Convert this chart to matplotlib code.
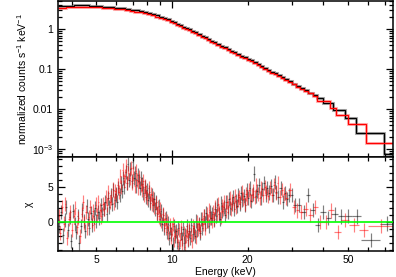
import numpy as np
import matplotlib
matplotlib.use('Agg')
import matplotlib.pyplot as plt
from matplotlib.ticker import FixedLocator, FuncFormatter

plt.rcParams['font.family'] = ['Liberation Sans', 'DejaVu Sans']
plt.rcParams['mathtext.default'] = 'regular'
plt.rcParams['font.size'] = 7.5

# ----- folded model (counts s^-1 keV^-1), step bins -----
model_edges_1 = [3.54, 3.8, 4.1, 4.4, 4.7, 5.0, 5.3, 5.6, 5.9, 6.2,
                 6.5, 6.8, 7.1, 7.4, 7.7, 8.0, 8.3, 8.6, 8.9, 9.2,
                 9.5, 9.8, 10.1, 10.4, 10.7, 11.0, 11.3, 11.6, 11.9, 12.2,
                 12.6, 13.0, 13.4, 13.8, 14.2, 14.6, 15.0, 15.5, 16.0, 16.5,
                 17.0, 17.5, 18.0, 18.6, 19.2, 19.8, 20.4, 21.0, 21.7, 22.4,
                 23.1, 23.8, 24.6, 25.4, 26.2, 27.1, 28.0, 29.0, 30.0, 31.0,
                 32.2, 33.4, 34.8, 36.2, 37.8, 39.8, 43.6, 48.5, 54.0, 69.4,
                 76.0]
model_1 = [3.8, 3.95, 4.0, 4.0, 3.92, 3.82, 3.7, 3.6, 3.48, 3.37,
           3.25, 3.12, 2.99, 2.88, 2.77, 2.58, 2.42, 2.25, 2.08, 1.93,
           1.79, 1.66, 1.52, 1.39, 1.28, 1.17, 1.08, 1.0, 0.92, 0.84,
           0.765, 0.69, 0.63, 0.57, 0.52, 0.475, 0.43, 0.39, 0.353, 0.32,
           0.295, 0.27, 0.246, 0.222, 0.2, 0.186, 0.168, 0.151, 0.136, 0.122,
           0.110, 0.099, 0.088, 0.079, 0.071, 0.063, 0.056, 0.050, 0.044, 0.039,
           0.034, 0.030, 0.026, 0.0225, 0.019, 0.0145, 0.0096, 0.006, 0.0026, 0.00076]

model_edges_2 = [3.54, 3.8, 4.1, 4.4, 4.7, 5.0, 5.3, 5.6, 5.9, 6.2,
                 6.5, 6.8, 7.1, 7.4, 7.7, 8.0, 8.3, 8.6, 8.9, 9.2,
                 9.5, 9.8, 10.1, 10.4, 10.7, 11.0, 11.3, 11.6, 11.9, 12.2,
                 12.6, 13.0, 13.4, 13.8, 14.2, 14.6, 15.0, 15.5, 16.0, 16.5,
                 17.0, 17.5, 18.0, 18.6, 19.2, 19.8, 20.4, 21.0, 21.7, 22.4,
                 23.1, 23.8, 24.6, 25.4, 26.2, 27.1, 28.0, 29.0, 30.0, 31.0,
                 32.2, 33.4, 34.8, 36.2, 37.8, 42.3, 45.0, 50.0, 59.2, 76.0]
model_2 = [3.45, 3.62, 3.7, 3.7, 3.64, 3.55, 3.45, 3.36, 3.25, 3.15,
           3.04, 2.92, 2.8, 2.69, 2.59, 2.42, 2.26, 2.1, 1.95, 1.81,
           1.68, 1.56, 1.43, 1.31, 1.2, 1.1, 1.01, 0.94, 0.865, 0.79,
           0.72, 0.65, 0.593, 0.537, 0.49, 0.447, 0.405, 0.367, 0.333, 0.302,
           0.278, 0.254, 0.232, 0.209, 0.189, 0.175, 0.158, 0.142, 0.128, 0.115,
           0.104, 0.093, 0.083, 0.075, 0.067, 0.06, 0.053, 0.047, 0.042, 0.037,
           0.032, 0.0285, 0.025, 0.0215, 0.016, 0.0105, 0.0072, 0.0043, 0.0014]

# ----- residuals (chi), data bins -----
resid_edges_1 = [3.54, 3.60, 3.66, 3.72, 3.78, 3.84, 3.90, 3.96, 4.02, 4.08,
                 4.14, 4.20, 4.26, 4.32, 4.38, 4.44, 4.50, 4.56, 4.62, 4.68,
                 4.74, 4.80, 4.86, 4.92, 4.98, 5.05, 5.12, 5.19, 5.26, 5.33,
                 5.40, 5.47, 5.54, 5.61, 5.68, 5.75, 5.82, 5.89, 5.96, 6.03,
                 6.10, 6.17, 6.24, 6.31, 6.38, 6.45, 6.52, 6.59, 6.66, 6.73,
                 6.80, 6.88, 6.96, 7.04, 7.12, 7.20, 7.28, 7.36, 7.44, 7.52,
                 7.60, 7.68, 7.76, 7.84, 7.92, 8.00, 8.09, 8.18, 8.27, 8.36,
                 8.45, 8.54, 8.63, 8.72, 8.81, 8.90, 9.00, 9.10, 9.20, 9.30,
                 9.40, 9.50, 9.60, 9.70, 9.80, 9.90, 10.01, 10.12, 10.23, 10.34,
                 10.45, 10.56, 10.67, 10.78, 10.90, 11.02, 11.14, 11.26, 11.38, 11.50,
                 11.63, 11.76, 11.89, 12.02, 12.15, 12.29, 12.43, 12.57, 12.71, 12.85,
                 13.00, 13.15, 13.30, 13.45, 13.60, 13.76, 13.92, 14.08, 14.24, 14.40,
                 14.57, 14.74, 14.91, 15.08, 15.26, 15.44, 15.62, 15.80, 15.99, 16.18,
                 16.37, 16.57, 16.77, 16.97, 17.18, 17.39, 17.60, 17.82, 18.04, 18.26,
                 18.49, 18.72, 18.96, 19.20, 19.45, 19.70, 19.96, 20.22, 20.50, 20.78,
                 21.07, 21.37, 21.68, 22.00, 22.33, 22.67, 23.02, 23.38, 23.75, 24.13,
                 24.52, 24.93, 25.35, 25.80, 26.27, 26.76, 27.27, 27.80, 28.35, 28.92,
                 29.40, 30.40, 31.50, 32.70, 34.00, 35.40, 37.00, 38.80, 40.80, 43.00,
                 45.60, 48.50, 52.00, 56.50, 67.00, 76.00]
chi_1 = [-0.6, 1.4, -1.9, 0.3, 2.2, -1.1, 0.7, -2.7, 1.6, -0.3,
         -1.4, 0.9, -2.9, -0.6, 1.7, 0.1, -1.2, 2.3, 0.5, -0.8,
         1.3, -0.4, 0.8, 2.0, 0.2, 1.5, 0.6, 2.4, 1.1, 1.9,
         2.8, 1.2, 3.4, 2.1, 3.9, 2.6, 4.5, 3.1, 4.0, 2.9,
         4.9, 3.8, 5.6, 4.4, 6.3, 5.0, 7.1, 5.5, 8.2, 6.0,
         7.6, 5.8, 8.6, 6.3, 7.0, 5.2, 6.7, 5.9, 4.8, 6.2,
         5.4, 4.1, 5.0, 3.6, 4.6, 3.2, 4.3, 2.7, 3.8, 2.4,
         3.3, 1.9, 2.8, 1.1, 2.3, 0.4, 1.6, -0.3, 1.0, -0.9,
         0.6, -1.4, -0.2, -2.3, -0.8, -1.7, -3.1, -0.6, -2.0, -1.2,
         -2.8, -0.9, -3.7, -1.6, -2.4, -1.0, -3.0, -1.9, -0.5, -2.6,
         -1.3, -2.2, -0.4, -1.7, -0.8, -2.0, 0.1, -1.1, -0.3, -1.5,
         0.4, -0.9, 0.9, -0.2, 1.3, 0.2, -0.6, 1.5, 0.6, 1.1,
         0.3, 1.9, 0.9, 2.4, 1.2, 0.5, 2.7, 1.6, 2.2, 1.0,
         2.9, 1.5, 3.3, 2.0, 2.6, 3.6, 1.8, 3.0, 2.3, 3.9,
         2.6, 4.1, 3.1, 3.7, 2.4, 4.5, 3.4, 4.8, 3.0, 4.0,
         6.9, 3.7, 4.4, 5.2, 3.5, 4.7, 5.6, 3.9, 4.9, 4.2,
         5.1, 3.8, 5.7, 4.3, 3.6, 4.8, 2.9, 4.1, 3.3, 3.8,
         3.8, 2.4, 2.4, 1.5, 3.8, 1.7, -0.4, 1.5, 0.6, 1.2,
         0.8, 0.9, 0.8, -2.5, -0.2]

resid_edges_2 = [3.54, 3.57, 3.63, 3.69, 3.75, 3.81, 3.87, 3.93, 3.99, 4.05,
                 4.11, 4.17, 4.23, 4.29, 4.35, 4.41, 4.47, 4.53, 4.59, 4.65,
                 4.71, 4.77, 4.83, 4.89, 4.95, 5.01, 5.08, 5.15, 5.22, 5.29,
                 5.36, 5.43, 5.50, 5.57, 5.64, 5.71, 5.78, 5.85, 5.92, 5.99,
                 6.06, 6.13, 6.20, 6.27, 6.34, 6.41, 6.48, 6.55, 6.62, 6.69,
                 6.76, 6.84, 6.92, 7.00, 7.08, 7.16, 7.24, 7.32, 7.40, 7.48,
                 7.56, 7.64, 7.72, 7.80, 7.88, 7.96, 8.04, 8.13, 8.22, 8.31,
                 8.40, 8.49, 8.58, 8.67, 8.76, 8.85, 8.95, 9.05, 9.15, 9.25,
                 9.35, 9.45, 9.55, 9.65, 9.75, 9.85, 9.95, 10.06, 10.17, 10.28,
                 10.39, 10.50, 10.61, 10.72, 10.84, 10.96, 11.08, 11.20, 11.32, 11.44,
                 11.56, 11.69, 11.82, 11.95, 12.08, 12.22, 12.36, 12.50, 12.64, 12.78,
                 12.92, 13.07, 13.22, 13.37, 13.52, 13.68, 13.84, 14.00, 14.16, 14.32,
                 14.48, 14.65, 14.82, 14.99, 15.17, 15.35, 15.53, 15.71, 15.90, 16.09,
                 16.28, 16.47, 16.67, 16.87, 17.07, 17.28, 17.49, 17.71, 17.93, 18.15,
                 18.38, 18.61, 18.84, 19.08, 19.33, 19.58, 19.83, 20.09, 20.36, 20.64,
                 20.93, 21.22, 21.52, 21.84, 22.16, 22.50, 22.85, 23.20, 23.57, 23.95,
                 24.34, 24.75, 25.17, 25.60, 26.05, 26.52, 27.02, 27.54, 28.08, 28.95,
                 29.90, 31.00, 32.10, 33.30, 34.70, 36.20, 37.90, 39.80, 41.80, 44.20,
                 47.00, 50.50, 55.50, 60.00, 76.00]
chi_2 = [0.9, -1.6, 2.1, -0.2, 2.6, -2.3, 0.4, 1.5, -1.1, 0.8,
         2.0, -0.7, 0.6, -2.0, 1.2, 2.8, -0.1, 1.4, -0.9, 0.7,
         2.2, 0.2, 1.6, -0.3, 2.5, 1.0, 2.9, 1.7, 0.8, 2.6,
         1.9, 3.6, 2.4, 4.2, 2.9, 3.5, 4.7, 2.7, 4.4, 3.8,
         5.2, 4.3, 6.6, 5.0, 7.4, 5.9, 6.5, 8.0, 5.5, 7.0,
         6.2, 7.7, 5.6, 6.9, 5.1, 7.2, 6.0, 4.9, 6.4, 5.3,
         4.6, 5.8, 3.9, 5.1, 4.2, 3.4, 4.8, 3.0, 4.0, 2.6,
         3.4, 2.1, 2.7, 1.3, 2.2, 0.8, 1.8, 0.2, 1.1, -0.4,
         0.5, -0.9, 0.2, -1.6, -0.4, -2.1, -1.0, -0.3, -2.6, -1.4,
         -1.9, -3.4, -1.1, -2.6, -0.7, -2.9, -1.5, -3.6, -2.0, -1.2,
         -2.4, -0.8, -1.8, -2.7, -0.6, -1.4, -2.1, 0.0, -1.0, -0.4,
         -1.2, 0.5, -0.3, 0.9, -0.8, 1.2, 0.1, 1.7, 0.6, 0.2,
         1.5, 0.4, 2.1, 1.0, 2.6, 1.4, 0.7, 2.3, 1.8, 2.9,
         1.6, 2.8, 2.2, 3.4, 1.9, 3.0, 2.5, 3.7, 2.1, 3.2,
         3.6, 2.8, 4.3, 3.3, 2.6, 4.0, 3.5, 4.6, 3.1, 3.9,
         4.4, 3.6, 5.3, 4.0, 3.4, 4.8, 3.9, 5.0, 4.3, 3.7,
         4.8, 3.9, 5.3, 4.1, 5.5, 3.6, 4.6, 4.0, 3.4, 4.5,
         2.1, 1.65, 1.5, 1.9, 1.0, 2.1, 0.0, 0.0, 1.65, -1.4,
         0.3, -0.4, -1.1, -0.6]

x_major = [10]
x_minor = [3, 4, 5, 6, 7, 8, 9, 20, 30, 40, 50, 60, 70]
x_labels = [5, 10, 20, 50]


def bin_centres(edges):
    e = np.asarray(edges)
    c = np.sqrt(e[:-1] * e[1:])
    return c, [c - e[:-1], e[1:] - c]


def style_axis(ax):
    ax.tick_params(which='both', direction='in', top=True, right=True, width=0.9)
    ax.tick_params(which='major', length=5)
    ax.tick_params(which='minor', length=2.6)
    for s in ax.spines.values():
        s.set_linewidth(1.1)


fig = plt.figure(figsize=(3.96, 2.77), dpi=100)
ax1 = fig.add_axes([0.147, 0.432, 0.846, 0.564])
ax2 = fig.add_axes([0.147, 0.094, 0.846, 0.338], sharex=ax1)

# top panel: folded model (with a soft halo standing in for the data crosses)
ax1.stairs(model_1, model_edges_1, baseline=None, color='#8a8a8a', lw=2.2, alpha=0.7)
ax1.stairs(model_2, model_edges_2, baseline=None, color='#ff8a8a', lw=2.2, alpha=0.6)
ax1.stairs(model_1, model_edges_1, baseline=None, color='black', lw=0.9)
ax1.stairs(model_2, model_edges_2, baseline=None, color='red', lw=0.9)
ax1.set_xscale('log')
ax1.set_yscale('log')
ax1.set_xlim(3.54, 75.7)
ax1.set_ylim(6.3e-4, 5.1)
ax1.set_ylabel('normalized counts s$^{-1}$ keV$^{-1}$', labelpad=2)

ylab = {1: '1', 0.1: '0.1', 0.01: '0.01', 0.001: '10$^{-3}$'}
ax1.yaxis.set_major_formatter(FuncFormatter(
    lambda v, p: min(ylab.items(), key=lambda kv: abs(np.log10(kv[0]) - np.log10(v)))[1]
    if v > 0 else ''))
ax1.tick_params(axis='x', which='both', labelbottom=False)
style_axis(ax1)

# bottom panel: residuals
c1, xe1 = bin_centres(resid_edges_1)
c2, xe2 = bin_centres(resid_edges_2)
ax2.errorbar(c1, chi_1, yerr=1, xerr=xe1, fmt='none', ecolor='black',
             elinewidth=0.85, alpha=0.5)
ax2.errorbar(c2, chi_2, yerr=1, xerr=xe2, fmt='none', ecolor='red',
             elinewidth=0.85, alpha=0.5)
ax2.axhline(0, color='#00ff00', lw=1.2, zorder=5)
ax2.set_ylim(-4.1, 9.2)
ax2.yaxis.set_major_locator(FixedLocator([0, 5]))
ax2.yaxis.set_minor_locator(FixedLocator(list(range(-4, 10))))
ax2.set_ylabel('χ', labelpad=10)
ax2.set_xlabel('Energy (keV)', labelpad=1)

ax2.xaxis.set_major_locator(FixedLocator(x_major))
ax2.xaxis.set_minor_locator(FixedLocator(x_minor))
ax2.xaxis.set_major_formatter(FuncFormatter(lambda v, p: '%g' % v))
ax2.xaxis.set_minor_formatter(FuncFormatter(
    lambda v, p: ('%g' % v) if round(v) in x_labels else ''))
style_axis(ax2)
ax2.tick_params(axis='x', which='both', labelsize=7.5, pad=3)

fig.savefig('out.png', dpi=100)
